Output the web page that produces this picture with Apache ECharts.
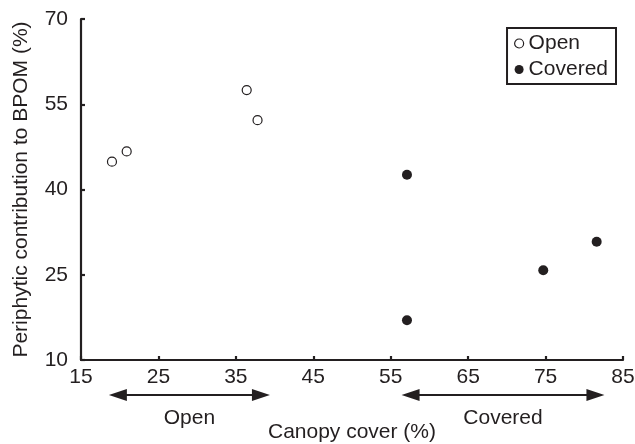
<!DOCTYPE html>
<html><head><meta charset="utf-8">
<script src="https://cdn.jsdelivr.net/npm/echarts@6/dist/echarts.min.js"></script>
<style>html,body{margin:0;padding:0;background:#fff}#c{width:635px;height:444px}</style>
</head><body><div id="c"></div>
<script>
const openX = [19.0, 20.9, 36.4, 37.8];
const openY = [44.9, 46.7, 57.5, 52.2];
const coveredX = [57.1, 57.1, 74.7, 81.6];
const coveredY = [42.6, 17.0, 25.8, 30.8];
const xTicks = [15, 25, 35, 45, 55, 65, 75, 85];
const yTicks = [10, 25, 40, 55, 70];
const openRange = [18.6, 39.4];
const coveredRange = [56.4, 82.6];

const font = 'Liberation Sans, Arial, sans-serif';
const ink = '#231f20';
const fs = 21;
const chart = echarts.init(document.getElementById('c'));
function axis(extra, margin) {
  return Object.assign({
    type: 'value',
    axisLine: {show: true, lineStyle: {color: ink, width: 2.2}},
    axisTick: {show: true, inside: true, length: 4, lineStyle: {color: ink, width: 2.2}},
    splitLine: {show: false},
    axisLabel: {color: ink, fontSize: fs, fontFamily: font, margin: margin},
    nameLocation: 'middle',
    nameTextStyle: {color: ink, fontSize: fs, fontFamily: font}
  }, extra);
}
chart.setOption({
  animation: false,
  backgroundColor: '#fff',
  grid: {left: 81, right: 12, top: 19, bottom: 84, containLabel: false, outerBoundsMode: 'none'},
  xAxis: axis({min: xTicks[0], max: xTicks[xTicks.length - 1], interval: 10,
    name: 'Canopy cover (%)', nameGap: 62}, 7),
  yAxis: axis({min: yTicks[0], max: yTicks[yTicks.length - 1], interval: 15,
    name: 'Periphytic contribution to BPOM (%)', nameGap: 49}, 13),
  legend: {
    orient: 'vertical', right: 19, top: 28,
    borderColor: ink, borderWidth: 2, borderRadius: 0,
    padding: [5, 8, 4, 7], itemGap: 5, itemWidth: 9, itemHeight: 9,
    textStyle: {color: ink, fontSize: fs, fontFamily: font},
    data: [
      {name: 'Open', icon: 'circle', itemStyle: {color: '#fff', borderColor: ink, borderWidth: 1.2, opacity: 1}},
      {name: 'Covered', icon: 'circle', itemStyle: {color: ink, opacity: 1}}
    ]
  },
  series: [
    {name: 'Open', type: 'scatter', symbol: 'circle', symbolSize: 9,
     itemStyle: {color: '#fff', borderColor: ink, borderWidth: 1.2, opacity: 1},
     data: openX.map((x, i) => [x, openY[i]])},
    {name: 'Covered', type: 'scatter', symbol: 'circle', symbolSize: 10,
     itemStyle: {color: ink, opacity: 1},
     data: coveredX.map((x, i) => [x, coveredY[i]])}
  ]
});

function arrow(range, label) {
  const a = chart.convertToPixel({gridIndex: 0}, [range[0], yTicks[0]]);
  const b = chart.convertToPixel({gridIndex: 0}, [range[1], yTicks[0]]);
  const y = a[1] + 35;
  return [
    {type: 'line', shape: {x1: a[0] + 8, y1: y, x2: b[0] - 8, y2: y}, style: {stroke: ink, lineWidth: 2.2}},
    {type: 'polygon', shape: {points: [[a[0], y], [a[0] + 18, y - 6], [a[0] + 18, y + 6]]}, style: {fill: ink}},
    {type: 'polygon', shape: {points: [[b[0], y], [b[0] - 18, y - 6], [b[0] - 18, y + 6]]}, style: {fill: ink}},
    {type: 'text', x: (a[0] + b[0]) / 2, y: y + 23, style: {text: label, fill: ink, font: fs + 'px ' + font, align: 'center', verticalAlign: 'middle'}}
  ];
}
chart.setOption({graphic: arrow(openRange, 'Open').concat(arrow(coveredRange, 'Covered'))});
</script></body></html>
